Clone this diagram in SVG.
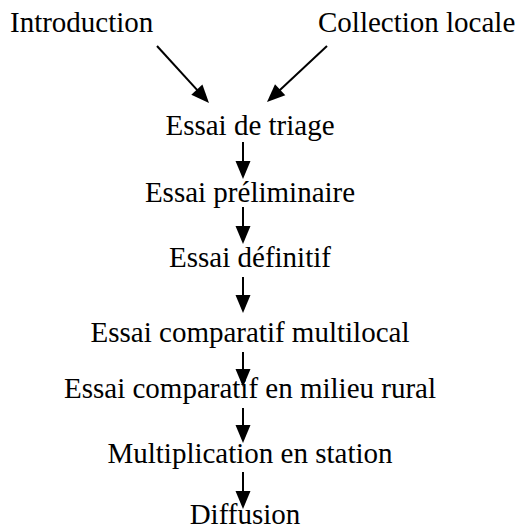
<svg xmlns="http://www.w3.org/2000/svg" width="518" height="529" viewBox="0 0 518 529">
<rect width="518" height="529" fill="#fff"/>
<g font-family="'Liberation Serif', serif" font-size="29" fill="#000">
<g id="n-introduction"><text x="10" y="32">Introduction</text></g>
<g id="n-collection"><text x="318" y="32">Collection locale</text></g>
<g text-anchor="middle">
<g id="n-triage"><text x="250" y="135">Essai de triage</text></g>
<g id="n-preliminaire"><text x="250" y="202">Essai préliminaire</text></g>
<g id="n-definitif"><text x="250" y="267">Essai définitif</text></g>
<g id="n-multilocal"><text x="250" y="342">Essai comparatif multilocal</text></g>
<g id="n-rural"><text x="250" y="398">Essai comparatif en milieu rural</text></g>
<g id="n-multiplication"><text x="250" y="463">Multiplication en station</text></g>
<g id="n-diffusion"><text x="245" y="524">Diffusion</text></g>
</g>
</g>
<g id="connectors" stroke="#000" stroke-width="2" fill="#000">
<line x1="157" y1="46" x2="197.5" y2="90.4"/>
<polygon stroke="none" points="191.3,94.8 202.4,84.6 209,103"/>
<line x1="327" y1="46" x2="279.4" y2="90.4"/>
<polygon stroke="none" points="275,84.2 285.3,95.2 267,102"/>
<line x1="243" y1="142" x2="243" y2="162"/>
<polygon stroke="none" points="235.5,161 250.5,161 243,179"/>
<line x1="243" y1="207" x2="243" y2="227"/>
<polygon stroke="none" points="235.5,226 250.5,226 243,244"/>
<line x1="243" y1="277" x2="243" y2="296"/>
<polygon stroke="none" points="235.5,295 250.5,295 243,313"/>
<line x1="243" y1="352" x2="243" y2="370"/>
<polygon stroke="none" points="235.5,369 250.5,369 243,387"/>
<line x1="243" y1="408" x2="243" y2="426"/>
<polygon stroke="none" points="235.5,425 250.5,425 243,443"/>
<line x1="243" y1="472" x2="243" y2="492"/>
<polygon stroke="none" points="235.5,491 250.5,491 243,509"/>
</g>
</svg>
